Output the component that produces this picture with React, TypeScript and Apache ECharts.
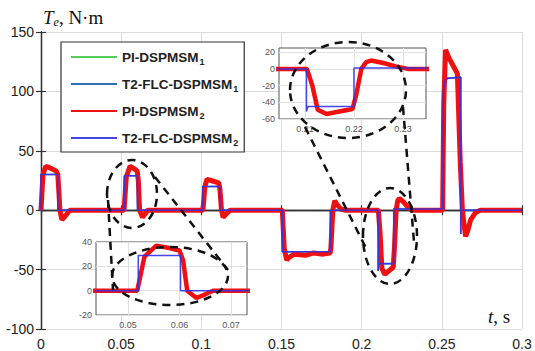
import React, { useEffect, useRef } from "react";
import * as echarts from "echarts";

// ---- data ----
const seriesNames = ["PI-DSPMSM1", "T2-FLC-DSPMSM1", "PI-DSPMSM2", "T2-FLC-DSPMSM2"];

// PI controller torque response, time (s) and torque (N·m)
const piTime = [
  0, 0.0012, 0.003, 0.005, 0.0095, 0.0105, 0.0118, 0.013, 0.0145, 0.018,
  0.0518, 0.0532, 0.0555, 0.058, 0.06, 0.0607, 0.0615, 0.0633, 0.065, 0.0665,
  0.101, 0.1022, 0.1035, 0.106, 0.1108, 0.1115, 0.1126, 0.1136, 0.1155, 0.118,
  0.1505, 0.1517, 0.1532, 0.1545, 0.158, 0.165, 0.17, 0.176, 0.1803, 0.1808, 0.182, 0.1832, 0.1845, 0.187, 0.19,
  0.2104, 0.2115, 0.2126, 0.2144, 0.217, 0.2197, 0.2205, 0.2215, 0.2225, 0.2235, 0.226, 0.2285, 0.231,
  0.2505, 0.2512, 0.2523, 0.2545, 0.2585, 0.2597, 0.2615, 0.2628, 0.2648, 0.266, 0.268, 0.271, 0.274, 0.3,
];
const piTorque = [
  0, 30, 37, 36, 33, 30, 0, -8, -6, 0,
  0, 28, 37, 35, 33, 25, 0, -6, -3, 0,
  0, 20, 26, 25, 23, 19, 0, -6, -3, 0,
  0, -32, -42, -40, -37, -38, -36, -37, -36, -32, 0, 8, 5, 1, 0,
  0, -20, -49, -54, -51, -48, -30, 0, 8, 10, 7, 3, 0,
  0, 90, 135, 128, 118, 115, 40, 0, -22, -18, -8, -2, 0, 0,
];

// Type-2 fuzzy controller torque response
const flcTime = [
  0, 0, 0.0105, 0.0105, 0.052, 0.052, 0.0602, 0.0602,
  0.101, 0.101, 0.1115, 0.1115, 0.1505, 0.1505, 0.1805, 0.1805,
  0.2103, 0.2103, 0.2106, 0.22, 0.22, 0.2506, 0.2509, 0.2518, 0.2535, 0.2618, 0.2618, 0.2619, 0.3,
];
const flcTorque = [
  0, 30, 30, 0, 0, 29, 29, 0,
  0, 20, 20, 0, 0, -35, -35, 0,
  0, -51, -45, -45, 1, 1, 100, 108, 111, 112, -20, 0, 0,
];

// axis ranges / ticks
const mainX = { min: 0, max: 0.3, interval: 0.05 };
const mainY = { min: -100, max: 150, interval: 50 };
const inset1X = { min: 0.2047, max: 0.2347, ticks: [0.21, 0.22, 0.23] };
const inset1Y = { min: -60, max: 25, ticks: [-60, -40, -20, 0, 20] };
const inset2X = { min: 0.0438, max: 0.0731, ticks: [0.05, 0.06, 0.07] };
const inset2Y = { min: -20, max: 40, ticks: [-20, 0, 20, 40] };

const toPairs = (ts: number[], vs: number[]) => ts.map((t, i) => [t, vs[i]]);
const piData = toPairs(piTime, piTorque);
const flcData = toPairs(flcTime, flcTorque);

const SANS = "Liberation Sans, Arial, sans-serif";
const SERIF = "Liberation Serif, Times New Roman, serif";
const COLORS = ["#58cf58", "#2f6fb5", "#f01010", "#3232e6"];

function mainAxisCommon() {
  return {
    type: "value" as const,
    axisLine: { show: true, lineStyle: { color: "#333", width: 1.3 } },
    axisTick: { show: true, inside: true, length: 5, lineStyle: { color: "#333", width: 1.2 } },
  };
}

function insetX(cfg: { min: number; max: number; ticks: number[] }, grid: number) {
  return {
    type: "value" as const,
    gridIndex: grid,
    min: cfg.min,
    max: cfg.max,
    z: 11,
    axisLine: { show: false },
    axisTick: { show: false, customValues: cfg.ticks },
    axisLabel: { customValues: cfg.ticks, fontSize: 9, color: "#555", fontFamily: SANS, margin: 5 },
    splitLine: { show: true, lineStyle: { color: "#e2e2e2", width: 1 } },
  };
}
function insetY(cfg: { min: number; max: number; ticks: number[] }, grid: number) {
  return {
    type: "value" as const,
    gridIndex: grid,
    min: cfg.min,
    max: cfg.max,
    z: 11,
    axisLine: { show: false },
    axisTick: { show: false, customValues: cfg.ticks },
    axisLabel: { customValues: cfg.ticks, fontSize: 9, color: "#555", fontFamily: SANS, margin: 4 },
    splitLine: { show: true, lineStyle: { color: "#e2e2e2", width: 1 } },
  };
}

function lineSeries(idx: number, data: number[][], xi: number, yi: number, width: number, z: number) {
  return {
    name: seriesNames[idx],
    type: "line" as const,
    xAxisIndex: xi,
    yAxisIndex: yi,
    data,
    symbol: "none",
    z,
    clip: true,
    lineStyle: { color: COLORS[idx], width, opacity: idx === 3 ? 0.9 : 1 },
    itemStyle: { color: COLORS[idx] },
  };
}

const dash = { stroke: "#111", lineWidth: 2.5, lineDash: [8, 6], fill: "none" };

const option: any = {
  animation: false,
  backgroundColor: "#fff",
  legend: {
    data: seriesNames,
    orient: "vertical",
    left: 61,
    top: 42,
    z: 20,
    selectedMode: false,
    itemWidth: 46,
    itemHeight: 14,
    itemGap: 9,
    padding: [6, 6, 5, 9],
    backgroundColor: "#fff",
    borderColor: "#333",
    borderWidth: 1.2,
    lineStyle: { width: 2 },
    itemStyle: { color: "rgba(0,0,0,0)", borderWidth: 0, opacity: 0 },
    formatter: (name: string) => `{n|${name.slice(0, -1)}}{s|${name.slice(-1)}}`,
    textStyle: {
      color: "#222",
      fontFamily: SANS,
      rich: {
        n: { fontSize: 13.5, fontWeight: "bold", lineHeight: 14, color: "#222", fontFamily: SANS },
        s: { fontSize: 9, fontWeight: "bold", lineHeight: 9, padding: [9, 0, 0, 1], color: "#222", fontFamily: SANS },
      },
    },
  },
  grid: [
    { left: 41, right: 13, top: 32, bottom: 21, show: false },
    { left: 279, top: 48, width: 147, height: 71, show: true, z: 10, backgroundColor: "#fff", borderColor: "#555", borderWidth: 1 },
    { left: 96, top: 242, width: 151, height: 73, show: true, z: 10, backgroundColor: "#fff", borderColor: "#555", borderWidth: 1 },
  ],
  xAxis: [
    {
      ...mainAxisCommon(),
      gridIndex: 0,
      position: "bottom",
      ...mainX,
      axisLabel: { fontSize: 14, color: "#222", fontFamily: SANS, margin: 8 },
      splitLine: { show: true, lineStyle: { color: "#dcdcdc", width: 1 } },
    },
    {
      ...mainAxisCommon(),
      gridIndex: 0,
      position: "top",
      ...mainX,
      axisLabel: { show: false },
      splitLine: { show: false },
    },
    insetX(inset1X, 1),
    insetX(inset2X, 2),
  ],
  yAxis: [
    {
      ...mainAxisCommon(),
      gridIndex: 0,
      position: "left",
      ...mainY,
      axisLabel: { fontSize: 14, color: "#222", fontFamily: SANS, margin: 7 },
      splitLine: { show: true, lineStyle: { color: "#dcdcdc", width: 1 } },
    },
    {
      ...mainAxisCommon(),
      gridIndex: 0,
      position: "right",
      ...mainY,
      axisLabel: { show: false },
      splitLine: { show: false },
    },
    insetY(inset1Y, 1),
    insetY(inset2Y, 2),
  ],
  series: [
    lineSeries(0, piData, 0, 0, 2, 2),
    lineSeries(1, flcData, 0, 0, 1.5, 2),
    lineSeries(2, piData, 0, 0, 5, 2),
    lineSeries(3, flcData, 0, 0, 1.6, 2),
    lineSeries(2, piData, 2, 2, 4.5, 12),
    lineSeries(3, flcData, 2, 2, 1.5, 12),
    lineSeries(2, piData, 3, 3, 4.5, 12),
    lineSeries(3, flcData, 3, 3, 1.5, 12),
  ],
  graphic: [
    {
      type: "text",
      left: 43,
      top: 7,
      z: 30,
      style: {
        text: "{t|T}{e|e}{r|, N·m}",
        rich: {
          t: { fontFamily: SERIF, fontStyle: "italic", fontSize: 19, lineHeight: 19, fill: "#111" },
          e: { fontFamily: SERIF, fontStyle: "italic", fontSize: 12, lineHeight: 12, padding: [9, 0, 0, 0], fill: "#111" },
          r: { fontFamily: SERIF, fontSize: 19, lineHeight: 19, fill: "#111" },
        },
      },
    },
    {
      type: "text",
      left: 488,
      top: 307,
      z: 30,
      style: {
        text: "{t|t}{r|, s}",
        rich: {
          t: { fontFamily: SERIF, fontStyle: "italic", fontSize: 19, fill: "#111" },
          r: { fontFamily: SERIF, fontSize: 19, fill: "#111" },
        },
      },
    },
    // zoom markers
    { type: "ellipse", z: 30, shape: { cx: 132, cy: 194, rx: 25, ry: 34 }, style: dash },
    { type: "ellipse", z: 30, shape: { cx: 170, cy: 276, rx: 58, ry: 29 }, style: dash },
    { type: "line", z: 30, shape: { x1: 108, y1: 200, x2: 113, y2: 290 }, style: dash },
    { type: "line", z: 30, shape: { x1: 155, y1: 177, x2: 228, y2: 270 }, style: dash },
    { type: "ellipse", z: 30, shape: { cx: 390, cy: 236, rx: 27, ry: 48 }, style: dash },
    { type: "ellipse", z: 30, shape: { cx: 348, cy: 90, rx: 58, ry: 48 }, style: dash },
    { type: "line", z: 30, shape: { x1: 305, y1: 127, x2: 368, y2: 252 }, style: dash },
    { type: "line", z: 30, shape: { x1: 403, y1: 107, x2: 414, y2: 242 }, style: dash },
  ],
};

export default function App() {
  const ref = useRef<HTMLDivElement>(null);
  useEffect(() => {
    document.body.style.margin = "0";
    const chart = echarts.init(ref.current as HTMLDivElement, undefined, { renderer: "svg" });
    chart.setOption(option);
    return () => chart.dispose();
  }, []);
  return <div ref={ref} style={{ width: 535, height: 351 }} />;
}
